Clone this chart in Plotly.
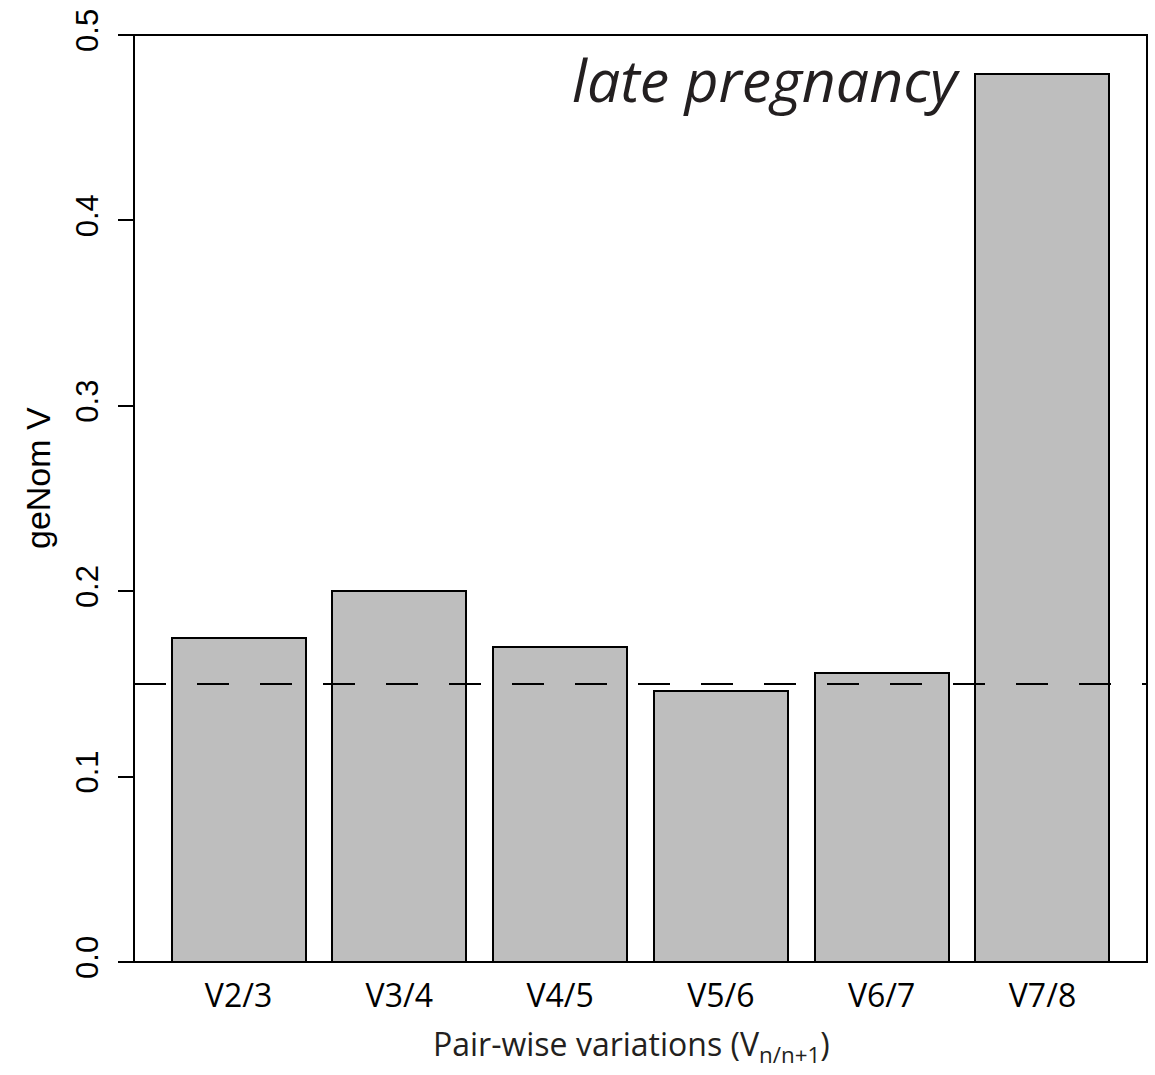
import plotly.graph_objects as go

categories = ["V2/3", "V3/4", "V4/5", "V5/6", "V6/7", "V7/8"]
values = [0.175, 0.200, 0.170, 0.146, 0.156, 0.479]
threshold = 0.15
y_ticks = [0.0, 0.1, 0.2, 0.3, 0.4, 0.5]

W, H = 1155, 1075
L, R, T, B = 134, 8, 35, 113

fig = go.Figure()
fig.add_trace(go.Bar(
    x=categories, y=values,
    marker=dict(color="#BEBEBE", line=dict(color="black", width=2)),
    width=1 / 1.2,
    showlegend=False,
))

fig.add_shape(type="line", xref="paper", yref="y", x0=0, x1=1, y0=threshold, y1=threshold,
              line=dict(color="black", width=2, dash="32px,31px"), layer="above")
fig.add_shape(type="rect", xref="paper", yref="paper", x0=0, x1=1, y0=0, y1=1,
              line=dict(color="black", width=2), layer="above")

fig.update_layout(
    width=W, height=H,
    margin=dict(l=L, r=R, t=T, b=B),
    plot_bgcolor="white", paper_bgcolor="white",
    bargap=0,
    xaxis=dict(
        type="category", range=[-0.65, 5.65], showgrid=False, zeroline=False,
        showline=False, ticks="",
        tickfont=dict(family="Open Sans", size=32, color="black"),
        ticklabelstandoff=12,
    ),
    yaxis=dict(
        range=[0, 0.5], showgrid=False, zeroline=False, showline=False,
        tickvals=y_ticks, ticktext=[f"{v:.1f}" for v in y_ticks],
        ticks="outside", ticklen=15, tickwidth=2, tickcolor="black",
        tickangle=-90,
        tickfont=dict(family="Liberation Sans", size=31, color="black"),
        ticklabelstandoff=8,
    ),
    annotations=[
        dict(text="late pregnancy", xref="paper", yref="paper", x=(963 - L) / 1013, y=1,
             xanchor="right", yanchor="top", yshift=-2, showarrow=False,
             font=dict(family="Open Sans", size=59, color="#231F20", style="italic")),
        dict(text="geNom V", xref="paper", yref="paper", x=0, y=(962 - 478) / 927,
             xanchor="center", yanchor="middle", xshift=-96, textangle=-90, showarrow=False,
             font=dict(family="Liberation Sans", size=34, color="black")),
        dict(text="Pair-wise variations (V<sub>n/n+1</sub>)", xref="paper", yref="paper",
             x=(631.5 - L) / 1013, y=0, xanchor="center", yanchor="top", yshift=-58,
             showarrow=False, font=dict(family="Open Sans", size=32, color="#231F20")),
    ],
)

fig.write_html("out.html")
